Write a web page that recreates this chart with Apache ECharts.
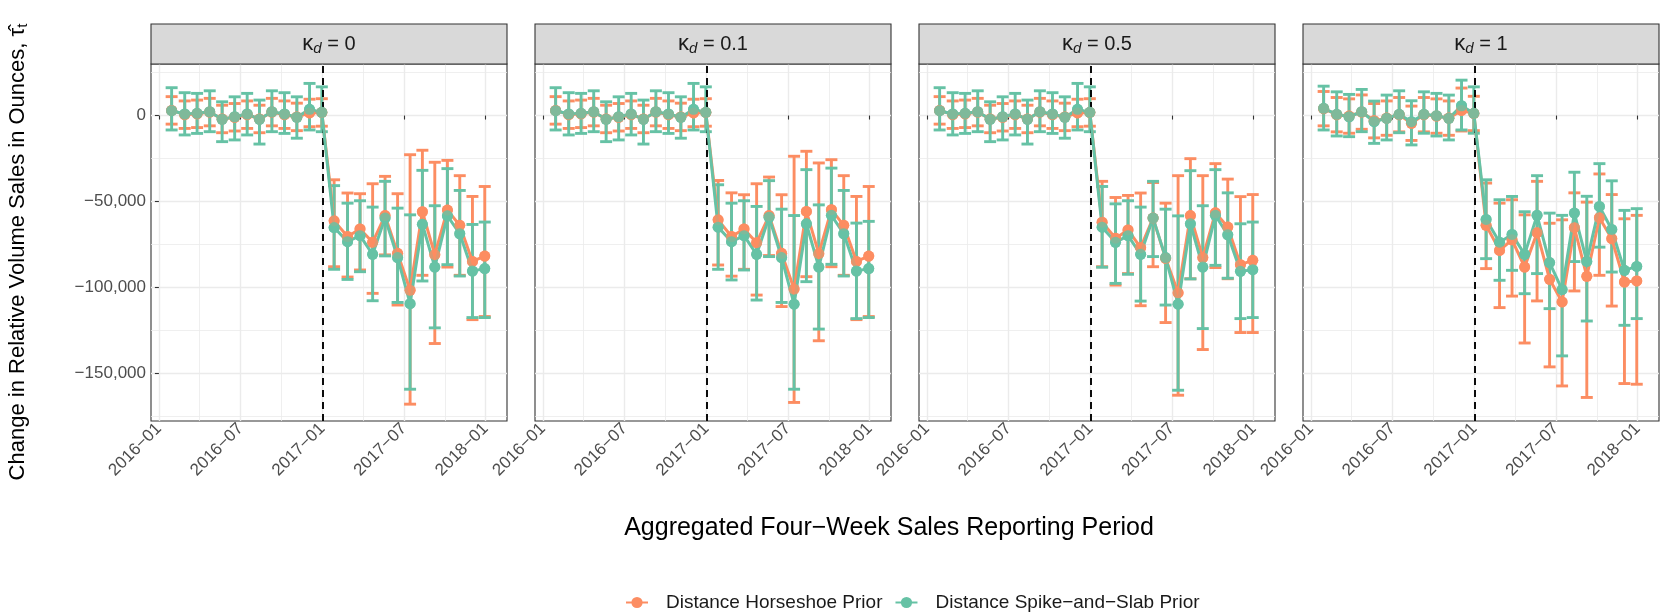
<!DOCTYPE html>
<html><head><meta charset="utf-8">
<script src="https://cdn.jsdelivr.net/npm/echarts@6/dist/echarts.min.js"></script>
<style>html,body{margin:0;padding:0;background:#fff}#c{width:1661px;height:613px}</style>
</head><body><div id="c"></div>
<script>
// ---------- DATA ----------
const periodDates = ['2016-01-30','2016-02-27','2016-03-26','2016-04-23','2016-05-21','2016-06-18','2016-07-16','2016-08-13','2016-09-10','2016-10-08','2016-11-05','2016-12-03','2016-12-31',
  '2017-01-28','2017-02-25','2017-03-25','2017-04-22','2017-05-20','2017-06-17','2017-07-15','2017-08-12','2017-09-09','2017-10-07','2017-11-04','2017-12-02','2017-12-30'];
const panelLabels = ['0','0.1','0.5','1'];
const seriesNames = ['Distance Horseshoe Prior','Distance Spike\u2212and\u2212Slab Prior'];
const xTickValues = [0,6,12,18,24];            // months since 2016-01
const xTickLabels = ['2016\u221201','2016\u221207','2017\u221201','2017\u221207','2018\u221201'];
const xMinorValues = [3,9,15,21];
const yTickValues = [0,-50000,-100000,-150000];
const yTickLabels = ['0','\u221250,000','\u2212100,000','\u2212150,000'];
const yMinorValues = [25000,-25000,-75000,-125000,-175000];
const interventionMonth = 12;

// kappa_d = 0
const hs_mean_k0 = [3000,500,1000,2000,-2000,-1000,500,-2000,2000,500,-800,1500,1800, -61300,-70400,-66000,-73800,-58200,-80200,-101700,-56000,-81000,-55000,-63900,-84900,-81800];
const hs_lo_k0   = [-5000,-7500,-7000,-6000,-10000,-9000,-7500,-10000,-6000,-7500,-8800,-6500,-6200, -88000,-94000,-89900,-103500,-81100,-110300,-168000,-93000,-132700,-88200,-93000,-118800,-117000];
const hs_hi_k0   = [11000,8500,9000,10000,6000,7000,8500,6000,10000,8500,7200,9500,9800, -37400,-45100,-45500,-39700,-35400,-45500,-22800,-20200,-27200,-26100,-35000,-47100,-41300];
const ss_mean_k0 = [2800,900,1300,2200,-2200,-700,900,-2200,2200,900,-1000,3600,1900, -65200,-73400,-69900,-80800,-59700,-82700,-109500,-63300,-88200,-58400,-68800,-90500,-89100];
const ss_lo_k0   = [-8400,-11300,-10400,-9400,-15200,-14200,-11300,-16600,-9400,-10400,-13200,-8400,-9400, -89500,-95400,-90900,-107800,-81700,-108800,-159300,-96300,-123600,-86800,-93400,-117600,-117600];
const ss_hi_k0   = [16200,13300,12900,14400,8000,10900,12900,9000,14400,13300,10900,18700,16700, -40800,-51000,-49600,-53300,-38300,-53900,-57800,-31900,-52500,-30900,-43600,-63400,-62000];

// kappa_d = 0.1
const hs_mean_k01 = [3000,500,1000,2000,-2000,-1000,500,-2000,2000,500,-800,1500,1800, -60700,-70400,-66000,-74000,-58200,-80200,-101000,-55800,-80400,-54800,-63900,-84900,-81800];
const hs_lo_k01   = [-5000,-7500,-7000,-6000,-10000,-9000,-7500,-10000,-6000,-7500,-8800,-6500,-6200, -87000,-93500,-89500,-104500,-81500,-111200,-167000,-93800,-131100,-88000,-93000,-118800,-117000];
const hs_hi_k01   = [11000,8500,9000,10000,6000,7000,8500,6000,10000,8500,7200,9500,9800, -37800,-45000,-46100,-39700,-35800,-46100,-23700,-20800,-27600,-25700,-35000,-47100,-41300];
const ss_mean_k01 = [2800,900,1300,2200,-2200,-700,900,-2200,2200,900,-1000,3600,1900, -65000,-73400,-69900,-80800,-59200,-82700,-109800,-63000,-88200,-58100,-68800,-90500,-89100];
const ss_lo_k01   = [-8400,-11300,-10400,-9400,-15200,-14200,-11300,-16600,-9400,-10400,-13200,-8400,-9400, -89500,-95700,-89900,-107400,-82100,-108800,-159300,-96700,-124300,-86600,-93400,-118200,-117600];
const ss_hi_k01   = [16200,13300,12900,14400,8000,10900,12900,9000,14400,13300,10900,18700,16700, -40300,-51000,-49600,-52900,-37900,-54500,-58200,-31500,-52000,-30600,-43600,-62600,-61600];

// kappa_d = 0.5
const hs_mean_k05 = [3000,500,1000,2000,-2000,-1000,500,-2000,2000,500,-800,1500,1800, -62100,-71400,-66600,-76900,-59700,-83100,-103200,-58200,-82700,-56600,-64900,-86800,-84300];
const hs_lo_k05   = [-5000,-7500,-7000,-6000,-10000,-9000,-7500,-10000,-6000,-7500,-8800,-6500,-6200, -88000,-98700,-92000,-110700,-88000,-120500,-162800,-95000,-136200,-88500,-95000,-126300,-126300];
const hs_hi_k05   = [11000,8500,9000,10000,6000,7000,8500,6000,10000,8500,7200,9500,9800, -38300,-47700,-46500,-45100,-39000,-51000,-35000,-25100,-35000,-28000,-37000,-47200,-46000];
const ss_mean_k05 = [2800,900,1300,2200,-2200,-700,900,-2200,2200,900,-1000,3600,1900, -65000,-73800,-69900,-80800,-59700,-82700,-109800,-63000,-88200,-58100,-69400,-90700,-89700];
const ss_lo_k05   = [-8400,-11300,-10400,-9400,-15200,-14200,-11300,-16600,-9400,-10400,-13200,-8400,-9400, -88300,-97700,-92400,-108000,-82100,-110300,-159900,-95100,-124000,-87200,-94700,-118200,-117600];
const ss_hi_k05   = [16200,13300,12900,14400,8000,10900,12900,9000,14400,13300,10900,18700,16700, -41300,-51400,-49600,-53300,-38300,-54500,-58400,-32100,-52500,-31500,-45000,-63000,-62000];

// kappa_d = 1
const hs_mean_k1 = [4000,500,-300,2000,-3000,-1500,500,-4500,500,-300,-1500,3000,1200, -63900,-78500,-72300,-88200,-68200,-95300,-108500,-65300,-93600,-59500,-71700,-96900,-96300];
const hs_lo_k1   = [-6000,-9500,-10300,-8000,-13000,-11500,-9500,-14500,-9500,-10300,-11500,-9000,-8800, -89100,-111800,-105100,-132400,-107900,-146300,-157400,-102100,-164100,-93000,-110900,-156000,-156400];
const hs_hi_k1   = [14000,10500,9700,12000,7000,8500,10500,5500,10500,9700,8500,16000,11200, -39300,-51000,-49000,-57800,-38300,-62700,-60700,-45000,-50400,-34000,-46000,-60100,-58100];
const ss_mean_k1 = [4200,700,-700,2200,-3600,-1600,700,-3600,700,-100,-1600,5700,1300, -60500,-73700,-69200,-80800,-58100,-85600,-101300,-56800,-84900,-52900,-66300,-90100,-87800];
const ss_lo_k1   = [-8400,-11900,-12300,-9400,-16200,-14200,-10000,-17100,-10300,-11900,-14200,-8400,-10300, -83300,-95900,-90100,-103700,-92000,-112400,-139900,-85000,-119600,-76600,-91100,-122100,-118200];
const ss_hi_k1   = [17100,13800,12300,15200,8400,11900,14400,8600,13800,12900,11900,20600,16700, -37400,-49000,-47100,-56000,-35000,-56800,-58100,-33000,-47000,-28000,-38000,-55200,-54200];

const panelData = [
  {hs:[hs_mean_k0,hs_lo_k0,hs_hi_k0], ss:[ss_mean_k0,ss_lo_k0,ss_hi_k0]},
  {hs:[hs_mean_k01,hs_lo_k01,hs_hi_k01], ss:[ss_mean_k01,ss_lo_k01,ss_hi_k01]},
  {hs:[hs_mean_k05,hs_lo_k05,hs_hi_k05], ss:[ss_mean_k05,ss_lo_k05,ss_hi_k05]},
  {hs:[hs_mean_k1,hs_lo_k1,hs_hi_k1], ss:[ss_mean_k1,ss_lo_k1,ss_hi_k1]}
];

// ---------- LAYOUT / STYLE ----------
const COL_HS = '#FC8D62', COL_SS = '#66C2A5';
const FONT = 'Liberation Sans, Arial, Helvetica, sans-serif';
const gridLefts = [151, 535, 919, 1303];
const gridW = 356, gridTop = 64, gridH = 357;
const stripTop = 24, stripH = 40;
const xMin = -0.58, xMax = 25.57, yMin = -177800, yMax = 30000;
const capHalf = 0.44;
const TICK_FS = 17;

function toMonth(s){
  const p = s.split('-').map(Number);
  const dim = new Date(Date.UTC(p[0], p[1], 0)).getUTCDate();
  return (p[0]-2016)*12 + (p[1]-1) + (p[2]-1)/dim;
}
const xs = periodDates.map(toMonth);

const grids = [], xAxes = [], yAxes = [], series = [], graphics = [];
gridLefts.forEach((left, i) => {
  grids.push({left: left, top: gridTop, width: gridW, height: gridH, show: true,
    backgroundColor: '#fff', borderColor: '#333333', borderWidth: 1.1, containLabel: false});
  xAxes.push({gridIndex: i, type: 'value', min: xMin, max: xMax, position: 'bottom',
    axisLine: {show: false},
    axisTick: {show: true, length: 4, inside: false, lineStyle: {color: '#333333', width: 1.1}, customValues: xTickValues},
    axisLabel: {show: true, customValues: xTickValues, rotate: 45, margin: 5, fontSize: TICK_FS, color: '#4D4D4D', fontFamily: FONT,
      formatter: v => { const k = xTickValues.indexOf(Math.round(v)); return k >= 0 ? xTickLabels[k] : ''; }},
    splitLine: {show: true, lineStyle: {color: '#EBEBEB', width: 1.4}}
  });
  xAxes.push({gridIndex: i, type: 'value', min: xMin, max: xMax, position: 'top',
    axisLine: {show: false}, axisLabel: {show: false},
    axisTick: {show: false, customValues: xMinorValues},
    splitLine: {show: true, lineStyle: {color: '#EBEBEB', width: 0.8}}
  });
  yAxes.push({gridIndex: i, type: 'value', min: yMin, max: yMax, position: 'left',
    axisLine: {show: false},
    axisTick: {show: i === 0, length: 4, lineStyle: {color: '#333333', width: 1.1}, customValues: yTickValues},
    axisLabel: {show: i === 0, customValues: yTickValues, margin: 5, fontSize: TICK_FS, color: '#4D4D4D', fontFamily: FONT,
      formatter: v => { const k = yTickValues.indexOf(Math.round(v)); return k >= 0 ? yTickLabels[k] : ''; }},
    splitLine: {show: true, lineStyle: {color: '#EBEBEB', width: 1.4}}
  });
  yAxes.push({gridIndex: i, type: 'value', min: yMin, max: yMax, position: 'right',
    axisLine: {show: false}, axisLabel: {show: false},
    axisTick: {show: false, customValues: yMinorValues},
    splitLine: {show: true, lineStyle: {color: '#EBEBEB', width: 0.8}}
  });

  const xi = 2*i, yi = 2*i;
  const pd = panelData[i];
  const groups = [['hs', COL_HS, seriesNames[0], 0], ['ss', COL_SS, seriesNames[1], 1]];

  series.push({type: 'line', name: 'vline'+i, xAxisIndex: xi, yAxisIndex: yi, data: [], z: 1,
    markLine: {silent: true, symbol: 'none', label: {show: false}, animation: false,
      lineStyle: {color: '#000', type: [7,5], width: 1.9}, data: [{xAxis: interventionMonth}]}});

  groups.forEach(([key, col, nm, k]) => {
    const [mean, lo, hi] = pd[key];
    series.push({type: 'custom', name: key+'err'+i, xAxisIndex: xi, yAxisIndex: yi, z: 2 + k, silent: true,
      data: xs.map((x, j) => [x, lo[j], hi[j]]),
      encode: {x: 0, y: [1, 2]},
      renderItem: (params, api) => {
        const x = api.value(0), l = api.value(1), h = api.value(2);
        const a = api.coord([x, h]), b = api.coord([x, l]);
        const xl = api.coord([x - capHalf, h])[0], xr = api.coord([x + capHalf, h])[0];
        const st = {stroke: col, lineWidth: 2.9, lineCap: 'butt'};
        return {type: 'group', children: [
          {type: 'line', shape: {x1: a[0], y1: a[1], x2: b[0], y2: b[1]}, style: st},
          {type: 'line', shape: {x1: xl, y1: a[1], x2: xr, y2: a[1]}, style: st},
          {type: 'line', shape: {x1: xl, y1: b[1], x2: xr, y2: b[1]}, style: st}
        ]};
      }
    });
  });
  groups.forEach(([key, col, nm, k]) => {
    const mean = pd[key][0];
    series.push({type: 'line', name: nm, xAxisIndex: xi, yAxisIndex: yi, z: 4 + k, silent: true,
      data: xs.map((x, j) => [x, mean[j]]), symbol: 'circle', symbolSize: 11, showSymbol: true,
      lineStyle: {color: col, width: 3}, itemStyle: {color: col}});
  });
  groups.forEach(([key, col, nm, k]) => {
    const mean = pd[key][0];
    series.push({type: 'scatter', name: key+'pt'+i, xAxisIndex: xi, yAxisIndex: yi, z: 6 + k, silent: true,
      data: xs.map((x, j) => [x, mean[j]]), symbol: 'circle', symbolSize: 11, itemStyle: {color: col}});
  });

  graphics.push({type: 'rect', z: 10, shape: {x: left, y: stripTop, width: gridW, height: stripH},
    style: {fill: '#D9D9D9', stroke: '#333333', lineWidth: 1.1}});
  graphics.push({type: 'text', z: 11, x: left + gridW/2, y: stripTop + stripH/2,
    style: {text: '{k|\u03BA}{d|d}{e| = ' + panelLabels[i] + '}', align: 'center', verticalAlign: 'middle',
      rich: {
        k: {fontSize: 22, fontFamily: FONT, fill: '#1A1A1A', lineHeight: 26, verticalAlign: 'middle'},
        d: {fontSize: 15, fontStyle: 'italic', fontFamily: FONT, fill: '#1A1A1A', lineHeight: 26, padding: [10, 0, 0, 0], verticalAlign: 'middle'},
        e: {fontSize: 20, fontFamily: FONT, fill: '#1A1A1A', lineHeight: 26, verticalAlign: 'middle'}
      }}});
});

graphics.push({type: 'text', x: 889, y: 528,
  style: {text: 'Aggregated Four\u2212Week Sales Reporting Period', fontSize: 25, fontFamily: FONT, fill: '#000',
    align: 'center', verticalAlign: 'middle'}});
graphics.push({type: 'text', x: 18, y: 252, rotation: Math.PI/2,
  style: {text: '{m|Change in Relative Volume Sales in Ounces, \u03C4\u0302}{s|t}', align: 'center', verticalAlign: 'middle',
    rich: {m: {fontSize: 22, fontFamily: FONT, fill: '#000', lineHeight: 28},
           s: {fontSize: 15, fontFamily: FONT, fill: '#000', lineHeight: 28, padding: [10,0,0,0]}}}});

const chart = echarts.init(document.getElementById('c'), null, {renderer: 'canvas'});
chart.setOption({
  animation: false,
  backgroundColor: '#fff',
  textStyle: {fontFamily: FONT},
  grid: grids, xAxis: xAxes, yAxis: yAxes, series: series,
  legend: {data: seriesNames, left: 620, top: 588, itemWidth: 22, itemHeight: 14, itemGap: 12,
    textStyle: {fontSize: 19, color: '#1A1A1A', fontFamily: FONT, padding: [0, 0, 0, 13]}},
  graphic: graphics
});
</script></body></html>
